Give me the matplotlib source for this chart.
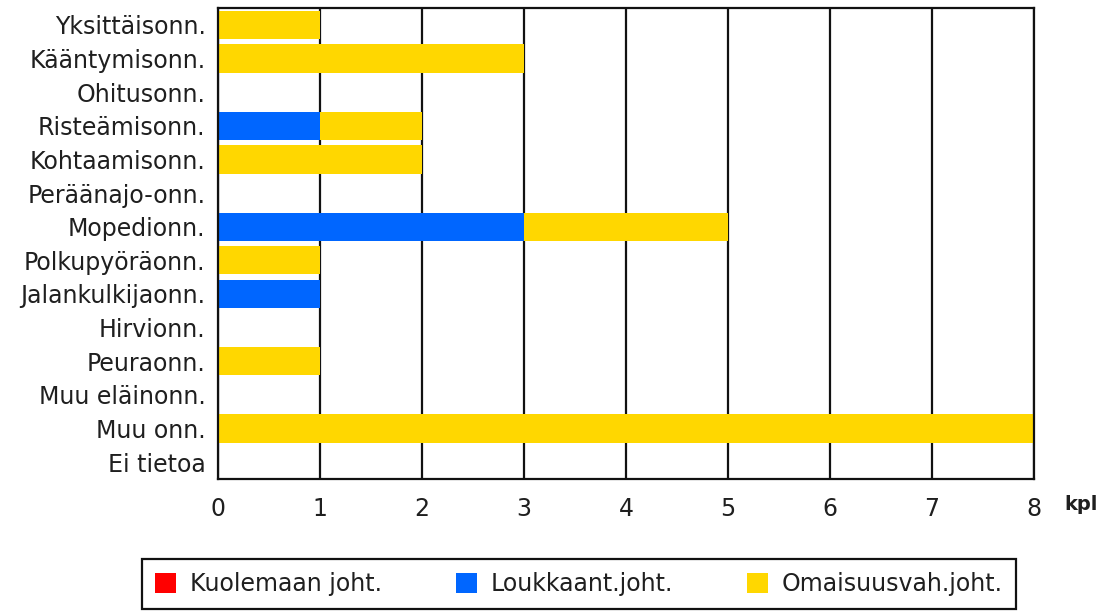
import numpy as np
import matplotlib
matplotlib.use("Agg")
import matplotlib.pyplot as plt
from matplotlib.patches import Patch

categories = ['Yksittäisonn.', 'Kääntymisonn.', 'Ohitusonn.', 'Risteämisonn.',
              'Kohtaamisonn.', 'Peräänajo-onn.', 'Mopedionn.', 'Polkupyöräonn.',
              'Jalankulkijaonn.', 'Hirvionn.', 'Peuraonn.', 'Muu eläinonn.',
              'Muu onn.', 'Ei tietoa']
kuolemaan = [0, 0, 0, 0, 0, 0, 0, 0, 0, 0, 0, 0, 0, 0]
loukkaant = [0, 0, 0, 1, 0, 0, 3, 0, 1, 0, 0, 0, 0, 0]
omaisuus = [1, 3, 0, 1, 2, 0, 2, 1, 0, 0, 1, 0, 8, 0]
series_names = ['Kuolemaan joht.', 'Loukkaant.joht.', 'Omaisuusvah.joht.']
colors = ['#FF0000', '#0066FF', '#FFD700']
xticks = [0, 1, 2, 3, 4, 5, 6, 7, 8]

plt.rcParams['font.family'] = 'DejaVu Sans'
txt = '#1f1f1f'

fig = plt.figure(figsize=(11.13, 6.14), dpi=100)
ax = fig.add_axes([0.1959, 0.2199, 0.7331, 0.7671])

y = np.arange(len(categories))
left = np.zeros(len(categories))
for vals, col in zip([kuolemaan, loukkaant, omaisuus], colors):
    vals = np.array(vals, dtype=float)
    ax.barh(y, vals, left=left, height=0.84, color=col, linewidth=0, zorder=2)
    left += vals

ax.set_ylim(len(categories) - 0.5, -0.5)
ax.set_xlim(0, 8)
ax.set_yticks(y)
ax.set_yticklabels(categories, fontsize=17, color=txt)
ax.set_xticks(xticks)
ax.set_xticklabels([str(t) for t in xticks], fontsize=17, color=txt)
ax.tick_params(axis='y', length=0, pad=9)
ax.tick_params(axis='x', length=0, pad=13)
ax.xaxis.grid(True, color='#111111', linewidth=1.6, zorder=1)
ax.set_axisbelow(True)
for s in ax.spines.values():
    s.set_color('#111111')
    s.set_linewidth(1.6)

fig.text(1081 / 1113, 1 - 505 / 614, 'kpl', ha='center', va='center',
         fontsize=14, fontweight='bold', color=txt)

# legend box spans the width under the plot, columns spread out
handles = [Patch(facecolor=c, edgecolor='none') for c in colors]
leg = fig.legend(handles, series_names, ncol=3, loc='lower left',
                 bbox_to_anchor=(142 / 1113, 5 / 614, 874 / 1113, 52 / 614),
                 mode='expand', fontsize=17, frameon=True, fancybox=False,
                 framealpha=1, handlelength=0.9, handleheight=0.9,
                 handletextpad=0.6, borderaxespad=0, borderpad=0.55)
leg.get_frame().set_edgecolor('#111111')
leg.get_frame().set_linewidth(1.6)
for t in leg.get_texts():
    t.set_color(txt)

fig.savefig('out.png', dpi=100)
